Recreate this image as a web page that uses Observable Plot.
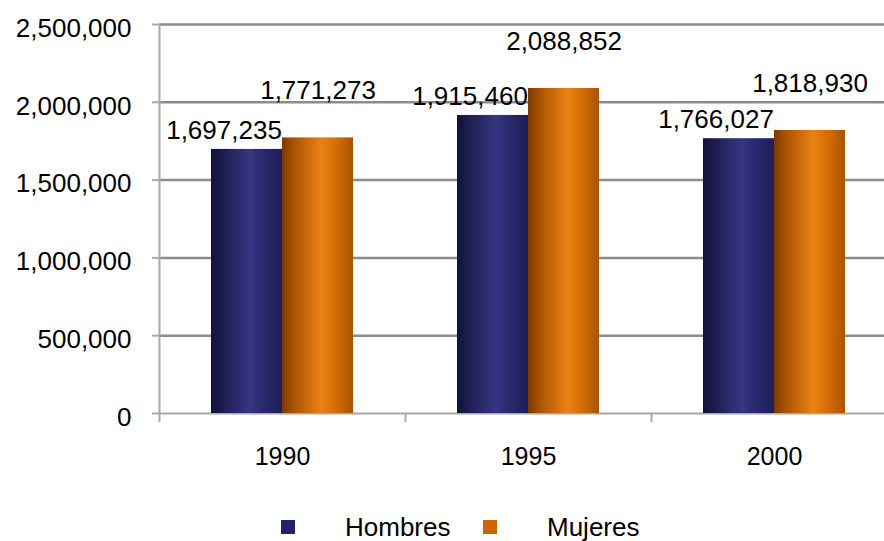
<!DOCTYPE html>
<html><head><meta charset="utf-8">
<script src="https://cdn.jsdelivr.net/npm/d3@7"></script>
<script src="https://cdn.jsdelivr.net/npm/@observablehq/plot@0.6"></script>
<style>
html,body{margin:0;padding:0;background:#fff;overflow:hidden;}
body{width:884px;height:541px;position:relative;font-family:"Liberation Sans",Arial,sans-serif;}
#legend{position:absolute;left:0;top:0;width:884px;height:541px;pointer-events:none;}
.sw{position:absolute;top:520px;width:14px;height:14px;}
.lt{position:absolute;top:512px;line-height:30px;font-size:26px;color:#000;}
</style></head><body>
<div id="chart"></div>
<div id="legend"></div>
<script>
const years = ["1990", "1995", "2000"];
const hombres = [1697235, 1915460, 1766027];
const mujeres = [1771273, 2088852, 1818930];
const seriesNames = ["Hombres", "Mujeres"];
const seriesColors = ["#23236b", "#cc6600"];
const yTicks = [0, 500000, 1000000, 1500000, 2000000, 2500000];

const dataH = years.map((y, i) => ({year: y, sexo: seriesNames[0], value: hombres[i]}));
const dataM = years.map((y, i) => ({year: y, sexo: seriesNames[1], value: mujeres[i]}));
const fmt = d3.format(",");

const defs = () => {
  const d = d3.create("svg:defs");
  const g1 = d.append("linearGradient").attr("id", "gBlue").attr("x1", 0).attr("x2", 1).attr("y1", 0).attr("y2", 0);
  [["0%", "#121238"], ["12%", "#1a1a4c"], ["55%", "#363682"], ["72%", "#2a2a70"], ["100%", "#1e1e58"]]
    .forEach(([o, c]) => g1.append("stop").attr("offset", o).attr("stop-color", c));
  const g2 = d.append("linearGradient").attr("id", "gOrange").attr("x1", 0).attr("x2", 1).attr("y1", 0).attr("y2", 0);
  [["0%", "#7a3a00"], ["14%", "#a45000"], ["55%", "#ea8214"], ["75%", "#d66e05"], ["100%", "#a85400"]]
    .forEach(([o, c]) => g2.append("stop").attr("offset", o).attr("stop-color", c));
  return d.node();
};

const half = 123;
const plot = Plot.plot({
  width: 884,
  height: 490,
  marginTop: 24,
  marginBottom: 77,
  marginLeft: 159,
  marginRight: -13,
  style: {fontFamily: "'Liberation Sans', Arial, sans-serif", fontSize: "26px", color: "#000", background: "#fff"},
  x: {domain: years, padding: 0, label: null},
  y: {domain: [0, 2500000], label: null},
  marks: [
    defs,
    Plot.gridY(yTicks.filter(d => d > 0), {stroke: "#8c8c8c", strokeOpacity: 1, strokeWidth: 2.5}),
    Plot.ruleY([0], {stroke: "#a8a8a8", strokeWidth: 2}),
    Plot.ruleX([years[0]], {dx: -half, stroke: "#a8a8a8", strokeWidth: 2}),
    Plot.barY(dataH, {x: "year", y: "value", fill: "url(#gBlue)", insetLeft: 87.5, insetRight: 87.5, dx: -35.5}),
    Plot.barY(dataM, {x: "year", y: "value", fill: "url(#gOrange)", insetLeft: 87.5, insetRight: 87.5, dx: 35.5}),
    Plot.axisY(yTicks, {tickSize: 7, tickFormat: () => "", stroke: "#a8a8a8", strokeWidth: 2}),
    Plot.axisY(yTicks, {tickSize: 0, tickPadding: 28, tickFormat: fmt, fontSize: 26, dy: 4}),
    Plot.axisX(years, {tickSize: 9, tickFormat: () => "", dx: -half, stroke: "#a8a8a8", strokeWidth: 2}),
    Plot.axisX(years, {tickSize: 0, tickPadding: 34, fontSize: 25}),
    Plot.text(dataH, {x: "year", y: "value", text: d => fmt(d.value), dx: -58.5, dy: -19, fontSize: 26, fill: "#000"}),
    Plot.text(dataM, {x: "year", y: "value", text: d => fmt(d.value), dx: 35.5, dy: -47, fontSize: 26, fill: "#000"})
  ]
});
document.getElementById("chart").appendChild(plot);

const legend = document.getElementById("legend");
const swX = [281, 483], txX = [345, 547];
seriesNames.forEach((n, i) => {
  const s = document.createElement("div");
  s.className = "sw"; s.style.left = swX[i] + "px"; s.style.background = seriesColors[i];
  legend.appendChild(s);
  const t = document.createElement("div");
  t.className = "lt"; t.style.left = txX[i] + "px"; t.textContent = n;
  legend.appendChild(t);
});
</script>
</body></html>
